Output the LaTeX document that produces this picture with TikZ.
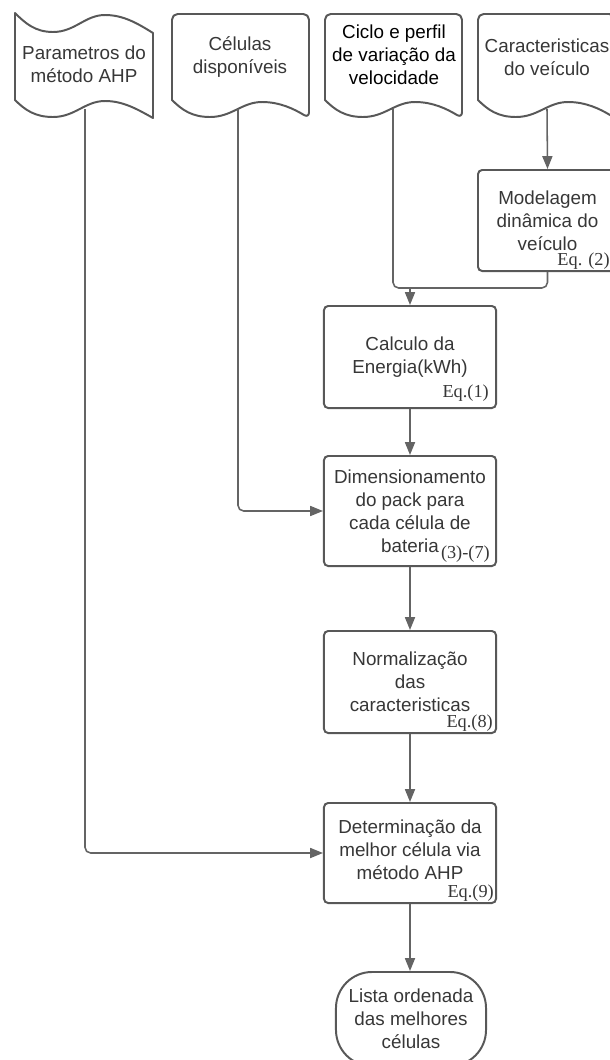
\documentclass[tikz,border=0pt]{standalone}
\usepackage{fontspec}
\setmainfont{Liberation Sans}
\newfontfamily\eqfont{Liberation Serif}
\usetikzlibrary{arrows.meta, positioning, calc}
\definecolor{boxgray}{RGB}{88, 88, 88}
\definecolor{linegray}{RGB}{100, 100, 100}
\definecolor{textgray}{RGB}{55, 55, 55}

\tikzset{
    procbox/.style={draw=boxgray, line width=1.4pt, rounded corners=3pt, fill=white, text=textgray,
        align=center, minimum width=4.3cm, inner sep=0pt, font=\fontsize{13.4}{16.3}\selectfont},
    termbox/.style={procbox, rounded corners=0.9cm, minimum width=3.75cm, minimum height=2.35cm},
    doctext/.style={text=textgray, align=center, inner sep=0pt, font=\fontsize{13.4}{16.3}\selectfont},
    eqlabel/.style={text=textgray, inner sep=0pt, font=\eqfont\fontsize{13}{15}\selectfont},
    outline/.style={draw=boxgray, fill=white, line width=1.4pt, line join=round},
    flow/.style={draw=linegray, line width=1.1pt, rounded corners=4pt, -{Triangle[length=0.32cm, width=0.25cm]}},
    link/.style={draw=linegray, line width=1.1pt, rounded corners=4pt},
    % document shape, origin at top left
    docshape/.pic={
        \draw[outline] (0,86) [rounded corners=4pt] -- (0,0) -- (137,0) -- (137,104) [sharp corners]
            .. controls (122,95) and (108,88) .. (90,88)
            .. controls (70,88) and (60,103) .. (38,103)
            .. controls (20,103) and (10,96) .. (0,86) -- cycle;
    },
    % tape shape, wavy top and bottom
    flagshape/.pic={
        \draw[outline] (0,0)
            .. controls (10,10) and (20,19) .. (38,19)
            .. controls (60,19) and (70,2) .. (90,2)
            .. controls (108,2) and (122,10) .. (138,20) -- (138,105)
            .. controls (122,96) and (108,88) .. (90,88)
            .. controls (70,88) and (60,104) .. (38,104)
            .. controls (20,104) and (10,97) .. (0,87) -- cycle;
    }
}

\begin{document}
\begin{tikzpicture}[x=0.025cm, y=-0.025cm]
    \clip (0,0) rectangle (610,1060);
    \fill[white] (0,0) rectangle (610,1060);

    % inputs
    \pic at (15,13) {flagshape};
    \node[doctext] (ahp) at (84,64) {Parametros do\\método AHP};
    \pic at (172,14) {docshape};
    \node[doctext] (cel) at (240,57) {Células\\disponíveis};
    \pic at (325,14) {docshape};
    \node[doctext, text=black] (cic) at (394,55) {Ciclo e perfil\\de variação da\\velocidade};
    \pic at (478,14) {docshape};
    \node[doctext] (car) at (547,57) {Caracteristicas\\do veículo};

    \coordinate (ahp-out) at (85,109);
    \coordinate (cel-out) at (238,109);
    \coordinate (cic-out) at (393,109);
    \coordinate (car-out) at (547,109);

    % process
    \node[procbox, minimum width=3.475cm, minimum height=2.525cm] (mod) at (547.5,220.5) {Modelagem\\dinâmica do\\veículo};
    \node[procbox, minimum height=2.55cm] (calc) at (410,357) {Calculo da\\Energia(kWh)};
    \node[procbox, minimum height=2.75cm] (dim) at (410,511) {Dimensionamento\\do pack para\\cada célula de\\bateria};
    \node[procbox, minimum height=2.55cm] (norm) at (410,682) {Normalização\\das\\caracteristicas};
    \node[procbox, minimum height=2.5cm, text depth=0.16cm] (det) at (410,853) {Determinação da\\melhor célula via\\método AHP};
    \node[termbox] (lista) at (411,1019) {Lista ordenada\\das melhores\\células};

    % equation refs
    \node[eqlabel, anchor=base east] (eq2) at ($(mod.south east)+(-8,-7)$) {Eq. (2)};
    \node[eqlabel, anchor=base east] (eq1) at ($(calc.south east)+(-8,-12)$) {Eq.(1)};
    \node[eqlabel, anchor=base east] (eq37) at ($(dim.south east)+(-7,-9)$) {(3)-(7)};
    \node[eqlabel, anchor=base east] (eq8) at ($(norm.south east)+(-4,-7)$) {Eq.(8)};
    \node[eqlabel, anchor=base east] (eq9) at ($(det.south east)+(-3,-7)$) {Eq.(9)};

    % connectors
    \draw[flow] (car-out) -- (mod.north);
    \coordinate (join) at ($(mod.south)+(0,16)$);
    \draw[link] (cic-out) |- (join) -- (mod.south);
    \draw[flow] (calc.north |- join) -- (calc.north);
    \draw[flow] (calc.south) -- (dim.north);
    \draw[flow] (cel-out) |- (dim.west);
    \draw[flow] (dim.south) -- (norm.north);
    \draw[flow] (norm.south) -- (det.north);
    \draw[flow] (ahp-out) |- (det.west);
    \draw[flow] (det.south) -- (det.south |- lista.north);
\end{tikzpicture}
\end{document}
